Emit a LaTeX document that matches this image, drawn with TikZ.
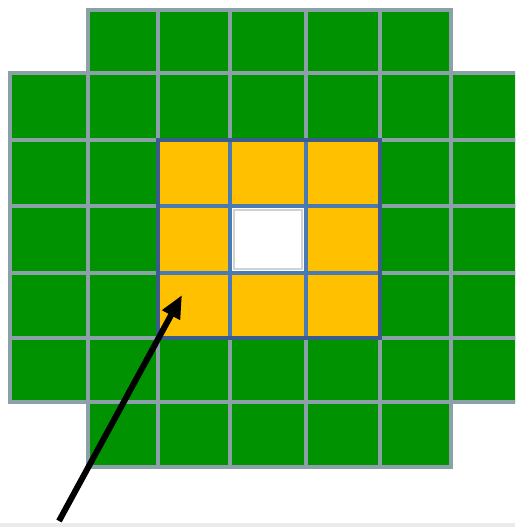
\documentclass[tikz,border=0pt]{standalone}
\usepackage{xcolor}
\usepackage{tikz}
\usetikzlibrary{arrows.meta}
\definecolor{cellgreen}{RGB}{0,146,0}
\definecolor{cellyellow}{RGB}{255,192,0}
\definecolor{gridgray}{RGB}{140,160,168}
\definecolor{ringblue}{RGB}{74,122,182}
\definecolor{ringdark}{RGB}{58,92,140}
\tikzset{
  outer/.style={fill=cellgreen, draw=gridgray, line width=0.075cm},
  ring/.style={fill=cellyellow, draw=ringblue, line width=0.08cm},
  hole/.style={fill=white, draw=ringblue, line width=0.08cm},
  holeedge/.style={draw=black!18, line width=0.05cm},
  pointer/.style={-{Triangle[length=0.46cm, width=0.38cm]}, line width=0.12cm, black}
}

\begin{document}
\begin{tikzpicture}[x=0.02cm, y=0.02cm]
\useasboundingbox (0,0) rectangle (515,527);
\clip (0,0) rectangle (515,527);
\fill[black!8] (0,0) rectangle (515,4);
% green cells, corners left out
\foreach \r/\ya/\yb in {1/517/454, 2/454/387, 3/387/321, 4/321/254, 5/254/189, 6/189/125, 7/125/60}
  \foreach \c/\xa/\xb in {1/10/88, 2/88/158, 3/158/230, 4/230/306, 5/306/380, 6/380/451, 7/451/530} {
    \pgfmathtruncatemacro\corner{(\r==1 || \r==7) && (\c==1 || \c==7)}
    \ifnum\corner=0
      \path[outer] (\xa,\ya) rectangle (\xb,\yb);
    \fi
  }
% yellow ring round the hole
\foreach \ya/\yb in {387/321, 321/254, 254/189}
  \foreach \xa/\xb in {158/230, 230/306, 306/380}
    \path[ring] (\xa,\ya) rectangle (\xb,\yb);
\draw[ringdark, line width=0.08cm] (158,387) rectangle (380,189);
\path[hole] (230,321) rectangle (306,254);
\draw[holeedge] (234,317) rectangle (302,258);
% arrow into the ring
\coordinate (tail) at (59,6);
\coordinate (tip) at (182,232);
\draw[pointer] (tail) -- (tip);
\end{tikzpicture}
\end{document}
